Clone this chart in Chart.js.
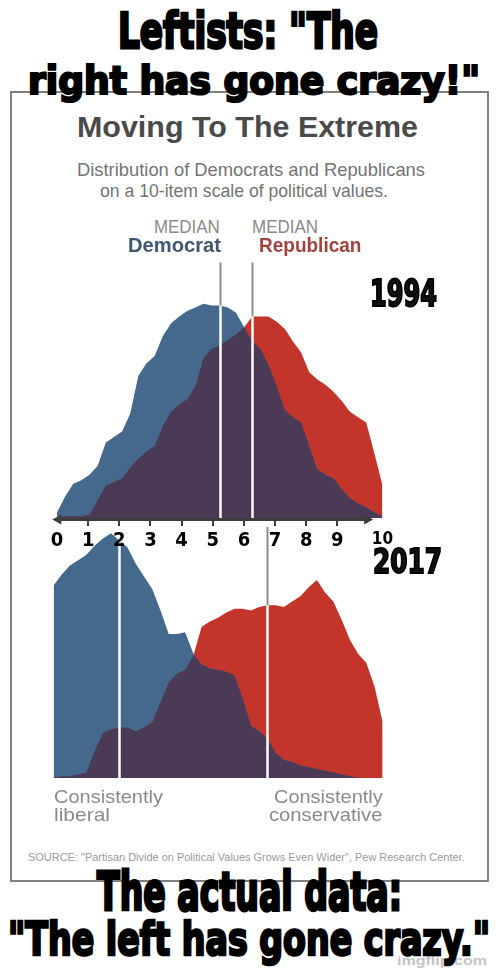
<!DOCTYPE html>
<html>
<head>
<meta charset="utf-8">
<script src="https://cdn.jsdelivr.net/npm/chart.js@4.4.1/dist/chart.umd.min.js"></script>
<style>
html,body{margin:0;padding:0;background:#fff;}
#page{position:relative;width:500px;height:979px;overflow:hidden;background:#fff;}
#box{position:absolute;left:10px;top:91px;width:479px;height:791px;border:2px solid #808080;box-sizing:border-box;}
canvas{position:absolute;left:0;}
#c1{top:250px;z-index:3;width:500px;height:310px;}
#c2{top:520px;z-index:2;width:500px;height:300px;}
.t{position:absolute;white-space:nowrap;line-height:1;z-index:5;transform-origin:0 0;}
.imp{-webkit-text-stroke:0.055em #000;}
#wm{z-index:4;}
</style>
</head>
<body>
<div id="page">
  <div id="box"></div>
  <div class="t" id="wm">imgflip.com</div>
  <div class="t imp" id="cap1">Leftists: "The</div>
  <div class="t imp" id="cap2">right has gone crazy!"</div>
  <div class="t" id="title">Moving To The Extreme</div>
  <div class="t" id="sub1">Distribution of Democrats and Republicans</div>
  <div class="t" id="sub2">on a 10-item scale of political values.</div>
  <div class="t" id="med1">MEDIAN</div>
  <div class="t" id="med2">MEDIAN</div>
  <div class="t" id="dem">Democrat</div>
  <div class="t" id="rep">Republican</div>
  <div class="t imp" id="y1994">1994</div>
  <div class="t imp" id="y2017">2017</div>
  <div class="t" id="cl1">Consistently</div>
  <div class="t" id="cl2">liberal</div>
  <div class="t" id="cr1">Consistently</div>
  <div class="t" id="cr2">conservative</div>
  <div class="t" id="src">SOURCE: "Partisan Divide on Political Values Grows Even Wider", Pew Research Center.</div>
  <div class="t imp" id="cap3">The actual data:</div>
  <div class="t imp" id="cap4">"The left has gone crazy."</div>
  <canvas id="c2" width="500" height="300"></canvas>
  <canvas id="c1" width="500" height="310"></canvas>
</div>
<script>
// ---------------- DATA ----------------
const scalePoints = [0,0.25,0.5,0.75,1,1.25,1.5,1.75,2,2.25,2.5,2.75,3,3.25,3.5,3.75,4,4.25,4.5,4.75,5,5.25,5.5,5.75,6,6.25,6.5,6.75,7,7.25,7.5,7.75,8,8.25,8.5,8.75,9,9.25,9.5,9.75,10];
const dem1994 = [0.3,1.2,1.9,2.1,2.4,2.9,4.2,4.5,4.8,5.8,7.9,8.6,9.0,10.1,10.8,11.2,11.5,11.7,11.9,11.8,11.8,11.7,11.4,10.6,9.8,9.4,8.5,7.3,6.0,5.6,5.3,4.0,2.7,2.4,2.2,1.6,1.1,0.8,0.6,0.3,0.1];
const rep1994 = [0.0,0.1,0.1,0.1,0.2,1.0,1.8,2.0,2.2,2.8,3.3,3.7,4.0,5.1,5.9,6.3,6.6,7.3,8.9,9.4,9.6,9.9,10.2,10.6,11.2,11.2,11.2,10.9,10.5,9.8,9.2,8.1,7.7,7.4,7.0,6.5,5.9,5.6,5.3,3.6,1.8];
const dem2017 = [10.7,11.3,11.8,12.1,12.4,12.9,13.3,13.6,13.2,12.8,11.9,11.2,10.5,9.3,8.0,8.0,8.1,6.9,6.3,6.1,6.0,5.9,5.7,4.4,2.9,2.6,2.2,1.4,1.0,0.9,0.7,0.6,0.5,0.4,0.3,0.2,0.1,0.0,0.0,0.0,0.0];
const rep2017 = [0.0,0.1,0.1,0.2,0.3,1.5,2.5,2.7,2.8,2.8,2.6,2.8,3.1,4.2,5.3,5.8,6.0,6.8,8.4,8.7,8.9,9.2,9.4,9.4,9.3,9.5,9.6,9.6,9.5,9.8,10.1,10.6,11.0,10.3,9.8,8.8,7.7,6.9,6.4,5.1,3.1];
const median1994 = [5.0, 6.0];   // Democrat, Republican
const median2017 = [2.0, 6.5];
const rulerLabels = ['0','1','2','3','4','5','6','7','8','9','10'];

const COLORS = {dem:'#45698c', rep:'#c3352b', both:'#4a3a56'};

// ---------------- FONTS ----------------
const mctx = document.createElement('canvas').getContext('2d');
function textW(font){ mctx.font = font; return mctx.measureText('0123456789 Leftists crazy WMmw').width; }
function fontAvailable(name){
  return Math.abs(textW('bold 40px monospace') - textW('bold 40px "' + name + '", monospace')) > 0.5;
}
const hasNarrow = fontAvailable('Liberation Sans Narrow');
const hasDejaCond = fontAvailable('DejaVu Sans Condensed') ||
  Math.abs(textW('bold 40px "DejaVu Sans"') - textW('bold condensed 40px "DejaVu Sans"')) > 0.5;
let CONDENSED, STRETCH;
if (hasNarrow){ CONDENSED = '"Liberation Sans Narrow", sans-serif'; STRETCH = ''; }
else if (hasDejaCond){ CONDENSED = '"DejaVu Sans", sans-serif'; STRETCH = 'condensed'; }
else { CONDENSED = '"Liberation Sans", sans-serif'; STRETCH = ''; }
const CAPFONT = hasNarrow ? CONDENSED : '"DejaVu Sans", sans-serif';
const SANS = '"Liberation Sans", Arial, Helvetica, sans-serif';

// ---------------- TEXT PLACEMENT ----------------
function place(id, left, width, baseline, size, family, weight, color, stretch){
  const el = document.getElementById(id);
  el.style.fontFamily = family; el.style.fontSize = size + 'px';
  el.style.fontWeight = weight; el.style.color = color;
  if (stretch) el.style.fontStretch = stretch;
  el.style.left = left + 'px'; el.style.top = '0px'; el.style.transform = 'none';
  const probe = document.createElement('span');
  probe.style.cssText = 'display:inline-block;width:0;height:0;vertical-align:baseline;';
  el.appendChild(probe);
  const b = probe.offsetTop;
  el.removeChild(probe);
  el.style.top = (baseline - b) + 'px';
  const w = el.getBoundingClientRect().width;
  el.style.transform = 'scaleX(' + (width / w) + ')';
}
const capF = c => c / 0.74;
place('cap1', 118, 260, 48, capF(37), CAPFONT, 'bold', '#000', STRETCH);
place('cap2', 28, 452, 94, capF(29), CAPFONT, 'bold', '#000', STRETCH);
place('cap3', 97, 305, 909.5, capF(39), CAPFONT, 'bold', '#000', STRETCH);
place('cap4', 8, 482, 954.5, capF(34), CAPFONT, 'bold', '#000', STRETCH);
place('y1994', 370, 67, 305.5, capF(27), CAPFONT, 'bold', '#111', STRETCH);
place('y2017', 373, 69, 572.5, capF(25), CAPFONT, 'bold', '#111', STRETCH);
place('title', 77, 341, 136.5, 30, SANS, 'bold', '#4a4a4a');
place('sub1', 76.7, 348, 176.3, 18.2, SANS, 'normal', '#747474');
place('sub2', 100, 288, 196.5, 18.2, SANS, 'normal', '#747474');
place('med1', 154.3, 65.7, 233.3, 17.5, SANS, 'normal', '#8a8a8a');
place('med2', 252.3, 66, 233.3, 17.5, SANS, 'normal', '#8a8a8a');
place('dem', 128, 93, 251.7, 19.5, SANS, 'bold', '#3e5873');
place('rep', 259.3, 102.4, 251.7, 19.5, SANS, 'bold', '#a2423d');
place('cl1', 53.5, 109, 802.5, 19, SANS, 'normal', '#8a8a8a');
place('cl2', 53.5, 56, 820.7, 19, SANS, 'normal', '#8a8a8a');
place('cr1', 274, 108.7, 802.5, 19, SANS, 'normal', '#8a8a8a');
place('cr2', 269.3, 113.4, 820.7, 19, SANS, 'normal', '#8a8a8a');
place('src', 28.3, 436.7, 860.5, 11, SANS, 'normal', '#9a9a9a');
place('wm', 397, 90, 965, 12, SANS, 'bold', '#c4c4c4');

// ---------------- HELPERS ----------------
function toPoints(arr){ return arr.map((v, i) => ({x: scalePoints[i], y: v})); }
function overlapPoints(a, b){
  const pts = [];
  for (let i = 0; i < scalePoints.length; i++){
    pts.push({x: scalePoints[i], y: Math.min(a[i], b[i])});
    if (i < scalePoints.length - 1){
      const d0 = a[i] - b[i], d1 = a[i+1] - b[i+1];
      if (d0 * d1 < 0){
        const t = d0 / (d0 - d1);
        pts.push({x: scalePoints[i] + t * (scalePoints[i+1] - scalePoints[i]), y: a[i] + t * (a[i+1] - a[i])});
      }
    }
  }
  return pts;
}
function interp(arr, x){
  for (let i = 0; i < scalePoints.length - 1; i++){
    if (x >= scalePoints[i] && x <= scalePoints[i+1]){
      const t = (x - scalePoints[i]) / (scalePoints[i+1] - scalePoints[i]);
      return arr[i] + t * (arr[i+1] - arr[i]);
    }
  }
  return arr[arr.length - 1];
}
function medianPlugin(values, dem, rep, grayTop){
  return {
    id: 'medians',
    afterDatasetsDraw(chart){
      const xs = chart.scales.x, ys = chart.scales.y, ctx = chart.ctx;
      const base = ys.getPixelForValue(0);
      values.forEach((m, k) => {
        const px = Math.round(xs.getPixelForValue(m)) + 0.5;
        const py = ys.getPixelForValue(Math.max(interp(dem, m), interp(rep, m)));
        ctx.save();
        if (grayTop[k] !== null && grayTop[k] < py){
          ctx.strokeStyle = '#8c8c8c'; ctx.lineWidth = 2;
          ctx.beginPath(); ctx.moveTo(px, grayTop[k]); ctx.lineTo(px, py); ctx.stroke();
        }
        ctx.strokeStyle = '#ffffff'; ctx.lineWidth = 2.5;
        ctx.beginPath(); ctx.moveTo(px, py); ctx.lineTo(px, base); ctx.stroke();
        ctx.restore();
      });
    }
  };
}
const rulerArrow = {
  id: 'rulerArrow',
  afterDraw(chart){
    const s = chart.scales.ruler, ctx = chart.ctx;
    const y = s.top + 1.5;
    const x0 = s.getPixelForValue(-0.15), x1 = s.getPixelForValue(10.15);
    ctx.save();
    ctx.strokeStyle = '#3d3d3d'; ctx.fillStyle = '#3d3d3d'; ctx.lineWidth = 3;
    ctx.beginPath(); ctx.moveTo(x0 + 6, y); ctx.lineTo(x1 - 6, y); ctx.stroke();
    ctx.beginPath(); ctx.moveTo(x0, y); ctx.lineTo(x0 + 9, y - 5); ctx.lineTo(x0 + 9, y + 5); ctx.closePath(); ctx.fill();
    ctx.beginPath(); ctx.moveTo(x1, y); ctx.lineTo(x1 - 9, y - 5); ctx.lineTo(x1 - 9, y + 5); ctx.closePath(); ctx.fill();
    ctx.restore();
  }
};
function datasets(dem, rep){
  const common = {fill: 'origin', borderWidth: 0, borderColor: 'rgba(0,0,0,0)', pointRadius: 0, tension: 0};
  return [
    Object.assign({label: 'Both', data: overlapPoints(dem, rep), backgroundColor: COLORS.both}, common),
    Object.assign({label: 'Democrats', data: toPoints(dem), backgroundColor: COLORS.dem}, common),
    Object.assign({label: 'Republicans', data: toPoints(rep), backgroundColor: COLORS.rep}, common)
  ];
}
const baseOptions = {
  responsive: false, animation: false, events: [],
  plugins: {legend: {display: false}, tooltip: {enabled: false}, title: {display: false}}
};
const rulerWeight = STRETCH ? 'bold ' + STRETCH : 'bold';

// ---------------- 1994 ----------------
new Chart(document.getElementById('c1'), {
  type: 'line',
  data: {datasets: datasets(dem1994, rep1994)},
  options: Object.assign({}, baseOptions, {
    layout: {padding: {left: 57, right: 117.5, top: 16, bottom: 0}},
    scales: {
      x: {type: 'linear', min: 0, max: 10, display: false},
      y: {type: 'linear', min: 0, max: 14, display: false},
      ruler: {
        type: 'linear', position: 'bottom', min: 0, max: 10.45,
        afterBuildTicks: s => { s.ticks = rulerLabels.map((l, i) => ({value: i < rulerLabels.length - 1 ? i : s.max})); },
        afterFit: s => { s.height = 42; },
        border: {display: false},
        grid: {drawOnChartArea: false, drawTicks: true, tickLength: 8, lineWidth: 2,
               color: c => (c.index === 0 || c.index === rulerLabels.length - 1) ? 'rgba(0,0,0,0)' : '#3d3d3d'},
        ticks: {
          autoSkip: false, maxRotation: 0, padding: 3, color: '#000',
          callback: (v, i) => rulerLabels[i],
          font: c => ({family: CONDENSED, weight: rulerWeight, size: c.index === rulerLabels.length - 1 ? 17 : 20})
        }
      }
    }
  }),
  plugins: [medianPlugin(median1994, dem1994, rep1994, [12.5, 12.5]), rulerArrow]
});

// ---------------- 2017 ----------------
new Chart(document.getElementById('c2'), {
  type: 'line',
  data: {datasets: datasets(dem2017, rep2017)},
  options: Object.assign({}, baseOptions, {
    layout: {padding: {left: 53.5, right: 117.3, top: 6, bottom: 42}},
    scales: {
      x: {type: 'linear', min: 0, max: 10, display: false},
      y: {type: 'linear', min: 0, max: 14, display: false}
    }
  }),
  plugins: [medianPlugin(median2017, dem2017, rep2017, [null, 7])]
});
</script>
</body>
</html>
